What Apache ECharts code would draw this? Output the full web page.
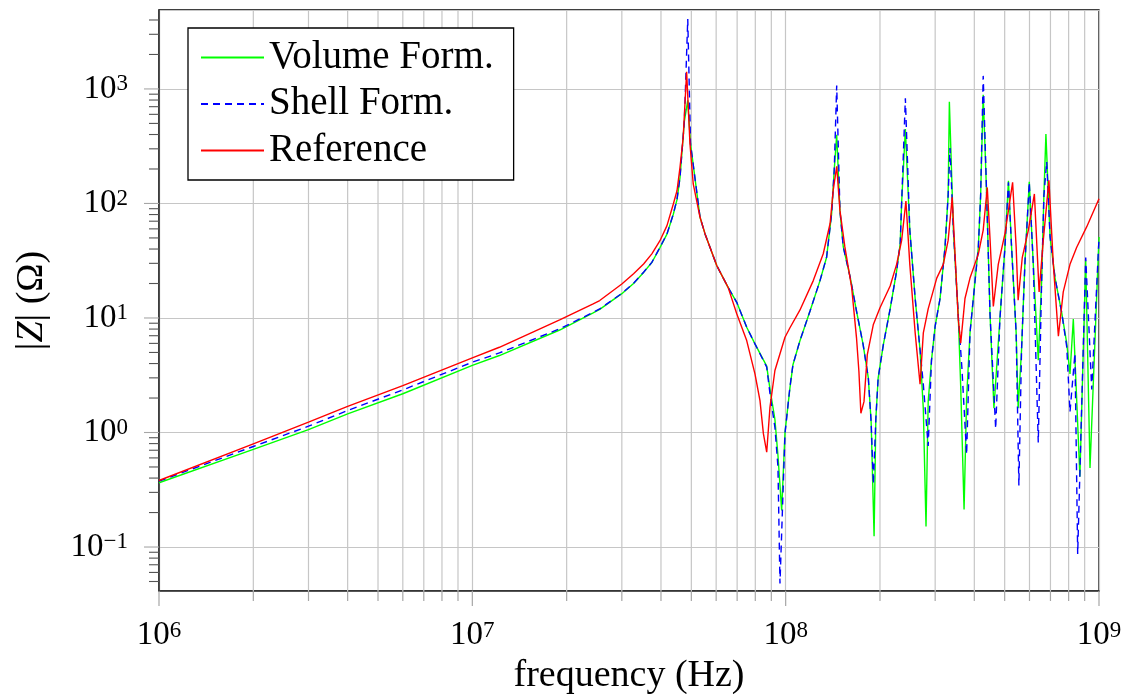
<!DOCTYPE html>
<html>
<head>
<meta charset="utf-8">
<script src="https://cdn.jsdelivr.net/npm/echarts@6/dist/echarts.min.js"></script>
<style>
  html, body { margin: 0; padding: 0; background: #fff; }
  #chart { width: 1127px; height: 694px; }
</style>
</head>
<body>
<div id="chart"></div>
<script>
// Impedance magnitude |Z| (ohm) against frequency (Hz), pairs of [f, |Z|]
const volumeForm = [
  [1e6, 0.364], [2e6, 0.711], [3e6, 1.06], [4e6, 1.455], [6e6, 2.18],
  [1e7, 3.85], [1.22e7, 4.70], [1.9e7, 7.85], [2.43e7, 11.1], [2.55e7, 11.9],
  [3.0e7, 16.3], [3.27e7, 20.0], [3.52e7, 25.0], [3.74e7, 30.5], [3.97e7, 41.2],
  [4.18e7, 54.0], [4.38e7, 80.5], [4.5e7, 108], [4.6e7, 168], [4.75e7, 520],
  [4.87e7, 794], [4.97e7, 331], [5.33e7, 75.7], [5.53e7, 54.2], [6.03e7, 28.6],
  [6.55e7, 18.5], [6.98e7, 13.7], [7.51e7, 8.3], [7.98e7, 5.94], [8.7e7, 3.8],
  [8.91e7, 2.4], [9.24e7, 1.3], [9.45e7, 0.63], [9.71e7, 0.209], [9.95e7, 1.0],
  [1.032e8, 2.45], [1.055e8, 3.9], [1.11e8, 6.3], [1.196e8, 11.5], [1.287e8, 21.2],
  [1.351e8, 33.9], [1.402e8, 81.8], [1.429e8, 197], [1.455e8, 398], [1.49e8, 87],
  [1.527e8, 41.7], [1.607e8, 22.6], [1.683e8, 11.5], [1.767e8, 5.86], [1.836e8, 2.98],
  [1.874e8, 1.24], [1.915e8, 0.124], [1.94e8, 1.32], [1.973e8, 2.98], [2.05e8, 5.86],
  [2.155e8, 12.0], [2.26e8, 25.7], [2.32e8, 44.7], [2.345e8, 102], [2.41e8, 447],
  [2.49e8, 58.5], [2.59e8, 14.8], [2.685e8, 5.25], [2.75e8, 1.6], [2.805e8, 0.151],
  [2.85e8, 1.86], [2.92e8, 4.27], [3.0e8, 8.51], [3.11e8, 14.8], [3.225e8, 41.5],
  [3.30e8, 117], [3.33e8, 774], [3.43e8, 58.5], [3.555e8, 10.5], [3.62e8, 2.5],
  [3.71e8, 0.213], [3.78e8, 2.0], [3.875e8, 7.41], [4.02e8, 20.8], [4.12e8, 41.5],
  [4.19e8, 117], [4.27e8, 891], [4.38e8, 117], [4.49e8, 10.7], [4.62e8, 1.63],
  [4.83e8, 10], [5.01e8, 41.5], [5.14e8, 158], [5.26e8, 41.5], [5.44e8, 7.41],
  [5.52e8, 1.63], [5.66e8, 5.25], [5.80e8, 29.4], [5.99e8, 155], [6.17e8, 29.4],
  [6.40e8, 4.27], [6.56e8, 20.8], [6.67e8, 117], [6.77e8, 403], [6.98e8, 51],
  [7.24e8, 22.3], [7.60e8, 11.2], [7.89e8, 6.0], [8.08e8, 3.24], [8.28e8, 9.77],
  [8.69e8, 0.41], [9.07e8, 31.6], [9.36e8, 0.49], [1e9, 51]
];

const shellForm = [
  [1e6, 0.376], [2e6, 0.755], [3e6, 1.135], [4e6, 1.556], [6e6, 2.355],
  [1e7, 4.11], [1.22e7, 4.95], [1.9e7, 8.04], [2.43e7, 11.2], [2.55e7, 12.0],
  [3.0e7, 16.4], [3.27e7, 20.1], [3.52e7, 25.1], [3.74e7, 30.6], [3.97e7, 41.4],
  [4.18e7, 54.2], [4.38e7, 80.9], [4.5e7, 109], [4.6e7, 169], [4.75e7, 525],
  [4.87e7, 4070], [4.97e7, 331], [5.33e7, 75.7], [5.53e7, 54.2], [6.03e7, 28.6],
  [6.55e7, 18.5], [6.98e7, 13.7], [7.51e7, 8.3], [7.98e7, 5.94], [8.7e7, 3.72],
  [8.91e7, 2.19], [9.24e7, 1.11], [9.45e7, 0.5], [9.59e7, 0.048], [9.95e7, 0.977],
  [1.032e8, 2.51], [1.055e8, 3.91], [1.11e8, 6.31], [1.196e8, 11.5], [1.287e8, 21.2],
  [1.351e8, 33.9], [1.402e8, 81.8], [1.429e8, 197], [1.455e8, 1070], [1.49e8, 87],
  [1.527e8, 41.7], [1.607e8, 22.6], [1.683e8, 11.5], [1.767e8, 5.86], [1.836e8, 2.98],
  [1.874e8, 1.24], [1.905e8, 0.354], [1.94e8, 1.32], [1.973e8, 2.98], [2.05e8, 5.86],
  [2.155e8, 12.0], [2.26e8, 25.7], [2.32e8, 44.7], [2.345e8, 102], [2.41e8, 830],
  [2.49e8, 58.5], [2.59e8, 14.8], [2.685e8, 5.25], [2.75e8, 2.63], [2.85e8, 0.764],
  [2.92e8, 4.27], [3.0e8, 8.51], [3.11e8, 14.8], [3.225e8, 41.5], [3.30e8, 117],
  [3.345e8, 305], [3.43e8, 58.5], [3.555e8, 10.5], [3.65e8, 3.72], [3.78e8, 0.643],
  [3.875e8, 7.41], [4.02e8, 20.8], [4.12e8, 41.5], [4.19e8, 117], [4.27e8, 1300],
  [4.38e8, 117], [4.49e8, 10.7], [4.68e8, 1.08], [4.83e8, 10], [5.01e8, 41.5],
  [5.14e8, 153], [5.26e8, 41.5], [5.44e8, 7.41], [5.55e8, 0.345], [5.66e8, 5.25],
  [5.80e8, 29.4], [5.99e8, 153], [6.17e8, 29.4], [6.40e8, 0.818], [6.56e8, 20.8],
  [6.67e8, 117], [6.81e8, 232], [6.98e8, 51], [7.24e8, 22.3], [7.60e8, 11.2],
  [7.89e8, 5.6], [8.08e8, 1.51], [8.38e8, 4.9], [8.55e8, 0.087], [9.07e8, 33.7],
  [9.48e8, 2.38], [1e9, 50]
];

const referenceZ = [
  [1e6, 0.381], [2e6, 0.796], [3e6, 1.23], [4e6, 1.69], [6e6, 2.57],
  [1e7, 4.49], [1.22e7, 5.55], [1.9e7, 9.62], [2.43e7, 13.3], [2.55e7, 14.2],
  [3.0e7, 19.8], [3.27e7, 24.3], [3.52e7, 29.6], [3.74e7, 36.3], [3.97e7, 47.3],
  [4.18e7, 64], [4.38e7, 99], [4.5e7, 129], [4.6e7, 207], [4.71e7, 378],
  [4.83e7, 1413], [4.95e7, 331], [5.07e7, 148], [5.33e7, 75.7], [5.53e7, 54.2],
  [6.03e7, 28.6], [6.55e7, 18.5], [6.98e7, 10.9], [7.51e7, 6.35], [7.98e7, 3.25],
  [8.28e7, 1.90], [8.49e7, 0.977], [8.70e7, 0.673], [8.91e7, 1.66], [9.24e7, 3.48],
  [9.95e7, 6.79], [1.032e8, 8.22], [1.11e8, 11.7], [1.225e8, 21.2], [1.318e8, 36.4],
  [1.386e8, 66.8], [1.419e8, 132], [1.455e8, 211], [1.49e8, 87], [1.545e8, 41.7],
  [1.624e8, 18.5], [1.683e8, 6.71], [1.713e8, 3.41], [1.738e8, 1.47], [1.778e8, 1.86],
  [1.822e8, 4.79], [1.905e8, 8.79], [2.0e8, 12.3], [2.155e8, 19], [2.26e8, 29.4],
  [2.345e8, 47.6], [2.42e8, 105], [2.49e8, 29.4], [2.59e8, 7.41], [2.685e8, 2.64],
  [2.75e8, 7.41], [2.85e8, 12], [3.035e8, 22.3], [3.185e8, 29.4], [3.30e8, 47.6],
  [3.40e8, 113], [3.485e8, 29.4], [3.555e8, 9.77], [3.62e8, 6.03], [3.735e8, 14.8],
  [3.875e8, 22.3], [4.12e8, 36.1], [4.27e8, 58.5], [4.40e8, 138], [4.49e8, 49],
  [4.60e8, 12.6], [4.77e8, 29.4], [5.01e8, 54.6], [5.30e8, 153], [5.44e8, 41.5],
  [5.52e8, 14.3], [5.69e8, 33.7], [5.95e8, 58.5], [6.22e8, 121], [6.44e8, 16.9],
  [6.64e8, 47.6], [6.92e8, 159], [7.15e8, 29.4], [7.42e8, 6.92], [7.69e8, 16.9],
  [8.08e8, 29.4], [8.49e8, 41.5], [9.14e8, 62.7], [1e9, 110]
];

const seriesNames = ['Volume Form.', 'Shell Form.', 'Reference'];

// Axis ranges and tick positions (decade exponents and in-decade minor steps)
const X_MIN = 1e6, X_MAX = 1e9;
const Y_MIN = 0.0413, Y_MAX = 4890;
const xDecades = [6, 7, 8, 9];
const yDecades = [-2, -1, 0, 1, 2, 3];
const minorSteps = [2, 3, 4, 5, 6, 7, 8, 9];

const FONT = 'Liberation Serif';
const GRID_COLOR = '#c6c6c6';
const TICK_COLOR = '#a6a6a6';

function tickList(decades, lo, hi) {
  const out = [];
  decades.forEach(function (e) {
    const base = Math.pow(10, e);
    if (base >= lo * 0.999 && base <= hi * 1.001) out.push([base, 1]);
    minorSteps.forEach(function (m) {
      const v = m * base;
      if (v > lo && v < hi) out.push([v, 0]);
    });
  });
  return out;
}
const xTicks = tickList(xDecades, X_MIN, X_MAX);
const yTicks = tickList(yDecades, Y_MIN, Y_MAX);

function powerLabel(v) {
  const e = Math.log10(v);
  const r = Math.round(e);
  if (Math.abs(e - r) > 1e-6) return '';
  const exp = r < 0 ? '\u2212' + (-r) : String(r);
  return '{b|10}{s|' + exp + '}';
}

const labelRich = {
  b: { fontFamily: FONT, fontSize: 33, lineHeight: 33, color: '#000' },
  s: { fontFamily: FONT, fontSize: 23, lineHeight: 23, color: '#000', verticalAlign: 'top' }
};

const chart = echarts.init(document.getElementById('chart'), null, { renderer: 'canvas' });

chart.setOption({
  animation: false,
  backgroundColor: '#fff',
  grid: {
    left: 159, right: 28, top: 10, bottom: 103,
    outerBoundsMode: 'none',
    containLabel: false,
    show: true, borderColor: '#000', borderWidth: 1.3, backgroundColor: 'transparent'
  },
  legend: {
    data: seriesNames,
    orient: 'vertical',
    left: 188, top: 28,
    padding: [9, 20, 9, 12],
    itemGap: 5.5,
    itemWidth: 63,
    itemHeight: 14,
    selectedMode: false,
    backgroundColor: '#fff',
    borderColor: '#000',
    borderWidth: 1.3,
    borderRadius: 0,
    itemStyle: { opacity: 0 },
    textStyle: { fontFamily: FONT, fontSize: 39, lineHeight: 41, color: '#000' }
  },
  xAxis: {
    type: 'log', logBase: 10, min: X_MIN, max: X_MAX,
    name: 'frequency (Hz)',
    nameLocation: 'middle',
    nameGap: 56,
    nameTextStyle: { fontFamily: FONT, fontSize: 38, color: '#000', lineHeight: 38 },
    axisLine: { show: true, lineStyle: { color: '#333', width: 1.6 } },
    axisTick: { show: false },
    minorTick: { show: false },
    splitLine: { show: true, lineStyle: { color: GRID_COLOR, width: 1.2 } },
    axisLabel: { formatter: powerLabel, rich: labelRich, margin: 28 }
  },
  yAxis: {
    type: 'log', logBase: 10, min: Y_MIN, max: Y_MAX,
    name: '|{i|Z}| (\u03A9)',
    nameLocation: 'middle',
    nameGap: 108,
    nameRotate: 90,
    nameTextStyle: {
      fontFamily: FONT, fontSize: 38, color: '#000', lineHeight: 38,
      rich: { i: { fontFamily: FONT, fontSize: 38, fontStyle: 'italic', color: '#000' } }
    },
    axisLine: { show: true, lineStyle: { color: '#333', width: 1.6 } },
    axisTick: { show: false },
    minorTick: { show: false },
    splitLine: { show: true, lineStyle: { color: GRID_COLOR, width: 1.2 } },
    axisLabel: { formatter: powerLabel, rich: labelRich, margin: 31 }
  },
  series: [
    {
      // minor vertical grid lines and the tick marks below the x axis
      type: 'custom', coordinateSystem: 'cartesian2d', silent: true, z: 1,
      data: xTicks.map(function (t) { return [t[0], Y_MIN, t[1]]; }),
      renderItem: function (params, api) {
        const cs = params.coordSys;
        const px = api.coord([api.value(0), Y_MIN])[0];
        const major = api.value(2) === 1;
        const bottom = cs.y + cs.height;
        const children = [{
          type: 'line',
          shape: { x1: px, y1: bottom, x2: px, y2: bottom + (major ? 15 : 10) },
          style: { stroke: TICK_COLOR, lineWidth: 1.2 }
        }];
        if (!major) {
          children.push({
            type: 'line',
            shape: { x1: px, y1: cs.y, x2: px, y2: bottom },
            style: { stroke: GRID_COLOR, lineWidth: 1.2 }
          });
        }
        return { type: 'group', children: children };
      }
    },
    {
      // tick marks left of the y axis
      type: 'custom', coordinateSystem: 'cartesian2d', silent: true, z: 1,
      data: yTicks.map(function (t) { return [X_MIN, t[0], t[1]]; }),
      renderItem: function (params, api) {
        const cs = params.coordSys;
        const py = api.coord([X_MIN, api.value(1)])[1];
        const major = api.value(2) === 1;
        return {
          type: 'line',
          shape: { x1: cs.x - (major ? 15 : 10), y1: py, x2: cs.x, y2: py },
          style: { stroke: major ? TICK_COLOR : '#555', lineWidth: 1.1 }
        };
      }
    },
    {
      name: seriesNames[0], type: 'line', data: volumeForm,
      symbol: 'none', z: 3,
      lineStyle: { color: '#00ff00', width: 1.4 },
      itemStyle: { color: '#00ff00' }
    },
    {
      name: seriesNames[1], type: 'line', data: shellForm,
      symbol: 'none', z: 4,
      lineStyle: { color: '#0000ff', width: 1.4, type: [7, 5] },
      itemStyle: { color: '#0000ff' }
    },
    {
      name: seriesNames[2], type: 'line', data: referenceZ,
      symbol: 'none', z: 5,
      lineStyle: { color: '#ff0000', width: 1.4 },
      itemStyle: { color: '#ff0000' }
    }
  ]
});
</script>
</body>
</html>
